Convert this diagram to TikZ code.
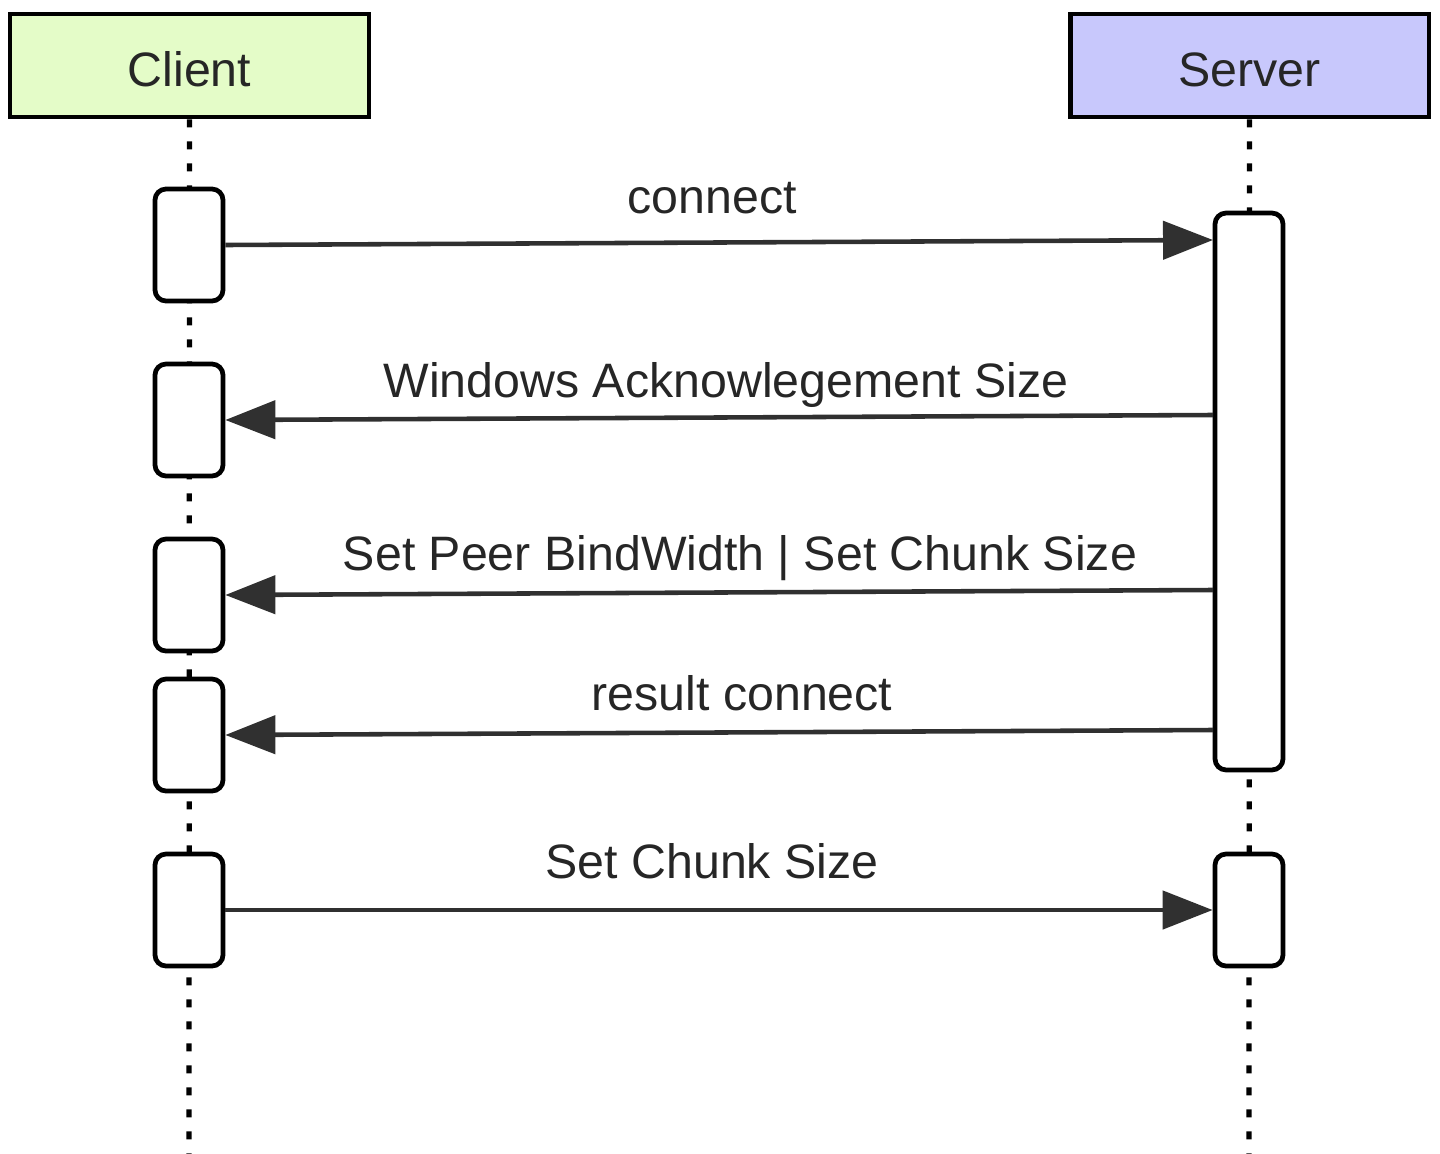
\documentclass[tikz,border=0pt]{standalone}
\usepackage{fontspec}
\setmainfont{Liberation Sans}
\usetikzlibrary{positioning,arrows.meta}
\definecolor{clientgreen}{RGB}{228,252,200}
\definecolor{serverblue}{RGB}{200,200,252}
\definecolor{arrowgray}{RGB}{48,48,48}

\begin{document}
\begin{tikzpicture}[x=0.02cm, y=-0.02cm,
    every node/.style = {font=\fontsize{27.5}{32}\selectfont, text=black!85},
    head/.style = {draw, line width=2.8pt, minimum width=7.18cm, minimum height=2.06cm,
                   inner sep=0, text height=0.86cm},
    act/.style = {draw, line width=2.7pt, rounded corners=0.22cm, fill=white,
                  minimum width=1.36cm, minimum height=2.24cm, inner sep=0},
    life/.style = {line width=3pt, dash pattern=on 0.16cm off 0.28cm},
    msg/.style = {line width=2.6pt, arrowgray, -{Triangle[length=1cm, width=0.76cm]}},
    lbl/.style = {anchor=base}
  ]
  \useasboundingbox (0,0) rectangle (1440,1153);

  % participants
  \node[head, fill=clientgreen] (client) at (189.5,65.5) {Client};
  \node[head, fill=serverblue] (server) at (1249.5,65.5) {Server};

  % lifelines
  \coordinate (cend) at (189,1166);
  \coordinate (send) at (1249,1166);
  \draw[life] (client.south) -- (cend);
  \draw[life] (server.south) -- (send);

  % activations
  \node[act] (ca1) at (189,245) {};
  \node[act] (ca2) at (189,420) {};
  \node[act] (ca3) at (189,595) {};
  \node[act] (ca4) at (189,735) {};
  \node[act] (ca5) at (189,910) {};
  \node[act, minimum height=11.14cm] (sa1) at (1249,491.5) {};
  \node[act] (sa2) at (1249,910) {};

  % message ends on the long server bar
  \coordinate (s1) at (1213,240);
  \coordinate (s2) at (1213,415);
  \coordinate (s3) at (1213,590);
  \coordinate (s4) at (1213,730);

  % messages
  \draw[msg] (ca1.east) -- (s1);
  \draw[msg] (s2) -- (ca2.east);
  \draw[msg] (s3) -- (ca3.east);
  \draw[msg] (s4) -- (ca4.east);
  \draw[msg] (ca5.east) -- (sa2.west);

  \node[lbl] (l1) at (712,213) {connect};
  \node[lbl] (l2) at (726,397) {Windows Acknowlegement Size};
  \node[lbl] (l3) at (740,570) {Set Peer BindWidth | Set Chunk Size};
  \node[lbl] (l4) at (742,710) {result connect};
  \node[lbl] (l5) at (712,878) {Set Chunk Size};
\end{tikzpicture}
\end{document}
